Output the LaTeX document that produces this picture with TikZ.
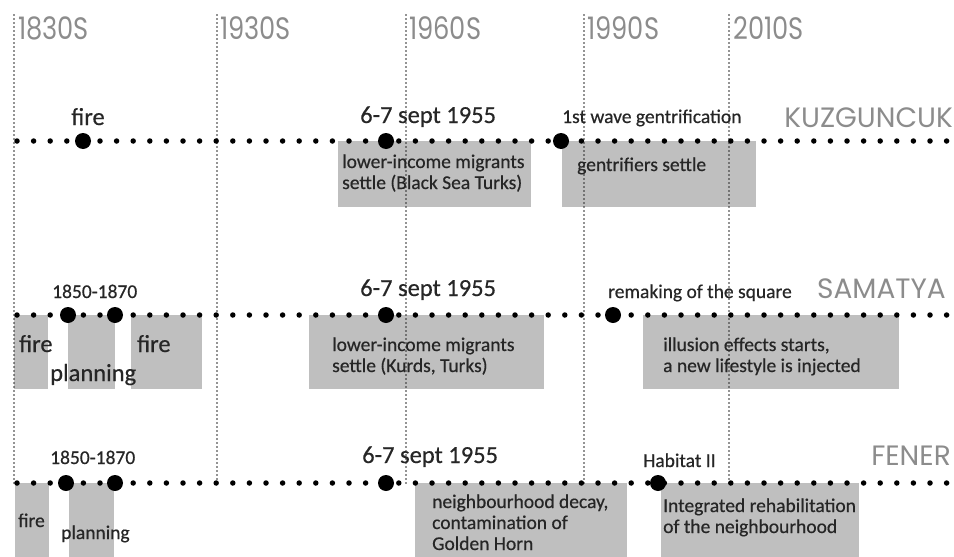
\documentclass[tikz,border=0pt]{standalone}
\usepackage{fontspec}
\setmainfont{Carlito}[FakeBold=0.5]
\newfontfamily\decfont[FakeStretch=0.83]{Poppins}
\newfontfamily\areafont{Poppins}
\begin{document}
\begin{tikzpicture}[x=1pt,y=-1pt,
    decade/.style={draw=black!85,line width=1.7pt,dash pattern=on 0pt off 4pt,line cap=round},
    timeline/.style={line width=5.5pt,dash pattern=on 0pt off 16.6pt,line cap=round},
    event/.style={circle,fill,inner sep=0pt,minimum size=16pt},
    box/.style={fill=black!25},
    dec/.style={anchor=west,inner sep=0pt,text=black!45,font=\decfont\fontsize{31}{31}\selectfont},
    area/.style={anchor=base east,inner sep=0pt,text=black!45,font=\areafont\fontsize{28}{28}\selectfont},
    lbl/.style={anchor=base west,inner sep=0pt,text=black!85,font=\fontsize{19.5}{21}\selectfont},
    big/.style={lbl,font=\fontsize{24.5}{26}\selectfont},
    txt/.style={lbl,align=left}]
  \useasboundingbox (0,0) rectangle (954,557);
  % shaded periods
  \fill[box] (338,141) rectangle (531,207);
  \fill[box] (562,141) rectangle (756,207);
  \fill[box] (14,315) rectangle (48,389);
  \fill[box] (68,315) rectangle (115,389);
  \fill[box] (131,315) rectangle (202,389);
  \fill[box] (309,315) rectangle (544,389);
  \fill[box] (643,315) rectangle (899,389);
  \fill[box] (15,483) rectangle (49,557);
  \fill[box] (69,483) rectangle (114,557);
  \fill[box] (415,483) rectangle (627,557);
  \fill[box] (661,483) rectangle (859,557);
  % decades
  \draw[decade] (14,15) -- (14,485);
  \draw[decade] (217,15) -- (217,485);
  \draw[decade] (406,15) -- (406,485);
  \draw[decade] (584,15) -- (584,485);
  \draw[decade] (729,15) -- (729,485);
  \node[dec] (d1830) at (18,28) {1830S};
  \node[dec] (d1930) at (220,28) {1930S};
  \node[dec] (d1960) at (409,28) {1960S};
  \node[dec] (d1990) at (587,28) {1990S};
  \node[dec] (d2010) at (733,28) {2010S};
  % timelines
  \coordinate (kuzL) at (17,141);
  \coordinate (kuzR) at (954,141);
  \coordinate (samL) at (17,315);
  \coordinate (samR) at (954,315);
  \coordinate (fenL) at (17,483);
  \coordinate (fenR) at (954,483);
  \draw[timeline] (kuzL) -- (kuzR);
  \draw[timeline] (samL) -- (samR);
  \draw[timeline] (fenL) -- (fenR);
  \node[area] (kuz) at (953,127) {KUZGUNCUK};
  \node[area] (sam) at (946,298) {SAMATYA};
  \node[area] (fen) at (951,465) {FENER};
  % Kuzguncuk
  \node[event] (kfire) at (83,141) {};
  \node[event] (kpog) at (386,141) {};
  \node[event] (kgent) at (561,141) {};
  \node[big,anchor=base] (kfirel) at (88,125) {fire};
  \node[big] (kpogl) at (360,123) {6-7 sept 1955};
  \node[lbl] (kgentl) at (562,123) {1st wave gentrification};
  \node[txt] (kmig) at (342,189) {lower-income migrants\\settle (Black Sea Turks)};
  \node[lbl] (kset) at (577,171) {gentrifiers settle};
  % Samatya
  \node[event] (s1850) at (68,315) {};
  \node[event] (s1870) at (115,315) {};
  \node[event] (spog) at (386,315) {};
  \node[event] (ssq) at (613,315) {};
  \node[lbl] (syears) at (52,298) {1850-1870};
  \node[big] (sfire) at (19,352) {fire};
  \node[big] (splan) at (50,381) {planning};
  \node[big] (sfire2) at (137,352) {fire};
  \node[big] (spogl) at (360,296) {6-7 sept 1955};
  \node[txt] (smig) at (332,372) {lower-income migrants\\settle (Kurds, Turks)};
  \node[lbl] (ssql) at (608,298) {remaking of the square};
  \node[txt] (sill) at (663,372) {illusion effects starts,\\a new lifestyle is injected};
  % Fener
  \node[event] (f1850) at (66,483) {};
  \node[event] (f1870) at (115,483) {};
  \node[event] (fpog) at (386,483) {};
  \node[event] (fhab) at (658,483) {};
  \node[lbl] (fyears) at (50,464) {1850-1870};
  \node[lbl] (ffire) at (18,527) {fire};
  \node[lbl] (fplan) at (61,539) {planning};
  \node[big] (fpogl) at (362,463) {6-7 sept 1955};
  \node[txt] (fdec) at (432,550) {neighbourhood decay,\\contamination of\\Golden Horn};
  \node[lbl] (fhabl) at (643,467) {Habitat II};
  \node[txt] (freh) at (663,533) {Integrated rehabilitation\\of the neighbourhood};
\end{tikzpicture}
\end{document}
